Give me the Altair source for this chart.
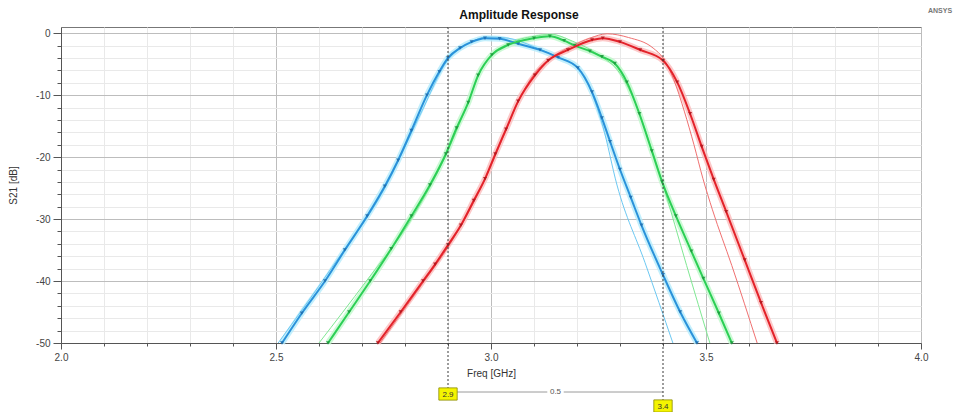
import altair as alt
import pandas as pd

# ---------------- data ----------------
blue_thick_f = [2.514, 2.56, 2.614, 2.66, 2.712, 2.753, 2.784, 2.815, 2.851, 2.88, 2.90, 2.928, 2.955, 2.986,
                3.02, 3.063, 3.114, 3.156, 3.202, 3.235, 3.258, 3.277, 3.30, 3.325, 3.35, 3.40, 3.44, 3.479]
blue_thick_db = [-50, -45.2, -40, -35.0, -29.5, -24.7, -20.5, -15.7, -10, -6.2, -4.0, -2.4, -1.4, -0.8,
                 -0.9, -1.7, -2.7, -3.9, -5.6, -9.5, -13.7, -17.5, -22.0, -26.5, -31.0, -39.0, -45.0, -50]
blue_thin_f = [2.505, 2.63, 2.753, 2.835, 2.90, 2.95, 2.99, 3.04, 3.10, 3.15, 3.20, 3.235, 3.26, 3.293, 3.358, 3.423]
blue_thin_db = [-50, -37.8, -25.0, -13.2, -4.3, -1.6, -0.6, -0.8, -2.2, -3.7, -5.6, -9.8, -15.0, -24.5, -37.0, -50]

green_thick_f = [2.621, 2.67, 2.719, 2.768, 2.815, 2.858, 2.895, 2.92, 2.947, 2.970, 3.002, 3.04, 3.10, 3.137,
                 3.17, 3.195, 3.23, 3.258, 3.288, 3.316, 3.345, 3.374, 3.398, 3.43, 3.466, 3.494, 3.53, 3.56]
green_thick_db = [-50, -45, -40, -34.8, -29.5, -24.5, -19.5, -15.3, -11.2, -6.8, -3.5, -1.9, -0.8, -0.5,
                  -1.2, -2.0, -2.9, -3.8, -4.9, -7.9, -13.0, -19.0, -24.0, -29.5, -35.2, -39.6, -45.2, -50]
green_thin_f = [2.60, 2.71, 2.815, 2.893, 2.945, 2.97, 3.0, 3.04, 3.10, 3.14, 3.19, 3.25, 3.30, 3.34, 3.37,
                3.40, 3.455, 3.509]
green_thin_db = [-50, -40, -30, -20, -11.5, -7, -3.6, -1.7, -0.5, -0.2, -1.3, -3.5, -6.5, -12, -18,
                 -24.5, -37.5, -50]

red_thick_f = [2.737, 2.79, 2.842, 2.87, 2.90, 2.93, 2.96, 2.986, 3.01, 3.035, 3.063, 3.102, 3.133, 3.179,
               3.235, 3.26, 3.30, 3.347, 3.40, 3.433, 3.463, 3.49, 3.518, 3.547, 3.59, 3.628, 3.665]
red_thick_db = [-50, -45, -40, -37.3, -34.2, -31.0, -27.0, -23.5, -19.5, -15.5, -11.0, -6.8, -4.4, -2.7,
                -1.1, -0.8, -1.4, -2.7, -4.4, -7.9, -13.0, -18.3, -23.6, -28.8, -36.6, -43.5, -50]
red_thin_f = [2.742, 2.845, 2.905, 2.99, 3.03, 3.065, 3.10, 3.14, 3.19, 3.23, 3.27, 3.32, 3.377, 3.40,
              3.425, 3.45, 3.472, 3.493, 3.515, 3.56, 3.619]
red_thin_db = [-50, -40, -34, -23.0, -16.5, -10.8, -6.6, -4.0, -2.0, -0.8, -0.1, -0.7, -2.4, -4.0,
               -7.5, -12.7, -18, -23.5, -28.5, -37.5, -50]

marker_f = [2.9, 3.4]
marker_labels = ["2.9", "3.4"]
delta_label = "0.5"
title_text = "Amplitude Response"
brand_text = "ANSYS"

x_ticks = [round(2.0 + 0.1 * i, 1) for i in range(21)]
y_ticks = list(range(-50, 1, 2))

# ---------------- styles ----------------
FONT = "Liberation Sans"
thick_col = {"blue": "#2a92da", "green": "#2ccf55", "red": "#e3222a"}
halo_col = {"blue": "#b4ebfb", "green": "#bff7ca", "red": "#fbbcbc"}
thin_col = {"blue": "#6cc8f2", "green": "#7fe893", "red": "#f07070"}
marker_dark = {"blue": "#1f6fb0", "green": "#1e9a3e", "red": "#b3161d"}
box_y = [367, 379]          # pixel rows of the marker boxes (relative to plot top)
delta_y = 365

series = {
    "blue": (blue_thick_f, blue_thick_db, blue_thin_f, blue_thin_db),
    "green": (green_thick_f, green_thick_db, green_thin_f, green_thin_db),
    "red": (red_thick_f, red_thick_db, red_thin_f, red_thin_db),
}

major_x = "abs(round(datum.value*10) % 5) == 0"
major_y = "datum.value % 10 == 0"

x_axis = alt.Axis(
    values=x_ticks,
    labelExpr=f"{major_x} ? format(datum.value, '.1f') : ''",
    grid=True,
    gridColor={"condition": {"test": major_x, "value": "#bdbdbd"}, "value": "#e9e9e9"},
    tickSize={"condition": {"test": major_x, "value": 6}, "value": 3},
    labelPadding=3,
    title="Freq [GHz]",
    titlePadding=6,
    labelFlush=False,
)
y_axis = alt.Axis(
    values=y_ticks,
    labelExpr=f"{major_y} ? '' + datum.value : ''",
    grid=True,
    gridColor={"condition": {"test": major_y, "value": "#bdbdbd"}, "value": "#e9e9e9"},
    tickSize={"condition": {"test": major_y, "value": 8}, "value": 4},
    labelPadding=3,
    title="S21 [dB]",
    titlePadding=17,
)

X = alt.X("f:Q", scale=alt.Scale(domain=[2.0, 4.0], nice=False, zero=False), axis=x_axis)
Y = alt.Y("db:Q", scale=alt.Scale(domain=[-50, 1], nice=False, zero=False), axis=y_axis)

layers = []
for name, (tf, td, nf, nd) in series.items():
    thick = pd.DataFrame({"f": tf, "db": td})
    layers.append(alt.Chart(thick).mark_line(color=halo_col[name], strokeWidth=6, opacity=0.8,
                                            interpolate="monotone").encode(x=X, y=Y))
for name, (tf, td, nf, nd) in series.items():
    thin = pd.DataFrame({"f": nf, "db": nd})
    layers.append(alt.Chart(thin).mark_line(color=thin_col[name], strokeWidth=1,
                                           interpolate="monotone").encode(x=X, y=Y))
for name, (tf, td, nf, nd) in series.items():
    thick = pd.DataFrame({"f": tf, "db": td})
    layers.append(alt.Chart(thick).mark_line(color=thick_col[name], strokeWidth=2,
                                            interpolate="monotone").encode(x=X, y=Y))
    layers.append(alt.Chart(thick).mark_point(shape="triangle-down", filled=True, size=16,
                                             color=marker_dark[name], opacity=0.9).encode(x=X, y=Y))

# delta line between markers
delta_df = pd.DataFrame({"f": [marker_f[0]], "f2": [marker_f[1]]})
layers.append(alt.Chart(delta_df).mark_rule(color="#9a9a9a", strokeWidth=1).encode(
    x=X, x2="f2:Q", y=alt.value(delta_y)))
mid_df = pd.DataFrame({"f": [(marker_f[0] + marker_f[1]) / 2], "t": [delta_label]})
layers.append(alt.Chart(mid_df).mark_point(shape="M-1.5,-1H1.5V1H-1.5Z", filled=True, color="white",
                                          size=120, opacity=1).encode(x=X, y=alt.value(delta_y)))
layers.append(alt.Chart(mid_df).mark_text(font=FONT, fontSize=8, color="#555").encode(
    x=X, y=alt.value(delta_y), text="t:N"))

for i in range(len(marker_f)):
    mdf = pd.DataFrame({"f": [marker_f[i]], "t": [marker_labels[i]]})
    layers.append(alt.Chart(mdf).mark_rule(color="#3a3a3a", strokeWidth=1, strokeDash=[2, 2]).encode(
        x=X, y=alt.value(0), y2=alt.value(box_y[i])))
    layers.append(alt.Chart(mdf).mark_point(shape="M-1.5,-1H1.5V1H-1.5Z", filled=True, size=150,
                                           fill="#f4f400", stroke="#8a8a00", strokeWidth=0.8,
                                           opacity=1).encode(x=X, y=alt.value(box_y[i])))
    layers.append(alt.Chart(mdf).mark_text(font=FONT, fontSize=8, color="#333").encode(
        x=X, y=alt.value(box_y[i] + 0.5), text="t:N"))

brand = pd.DataFrame({"t": [brand_text]})
layers.append(alt.Chart(brand).mark_text(font=FONT, fontSize=7, fontWeight="bold", color="#777").encode(
    x=alt.value(879), y=alt.value(-16), text="t:N"))

title_df = pd.DataFrame({"t": [title_text]})
layers.append(alt.Chart(title_df).mark_text(font=FONT, fontSize=12, fontWeight="bold", color="#111").encode(
    x=alt.value(458), y=alt.value(-12), text="t:N"))

chart = alt.layer(*layers).properties(
    width=860,
    height=316,
    autosize=alt.AutoSizeParams(type="none"),
    padding={"left": 53, "top": 19, "right": 32, "bottom": 69},
).configure_view(
    stroke="#777", strokeWidth=1
).configure_axis(
    labelFont=FONT, titleFont=FONT, labelFontSize=10, titleFontSize=10,
    labelColor="#444", titleColor="#333", titleFontWeight="normal",
    domainColor="#555", tickColor="#555",
)

chart.save("out.html", embed_options={"renderer": "svg", "actions": False})
